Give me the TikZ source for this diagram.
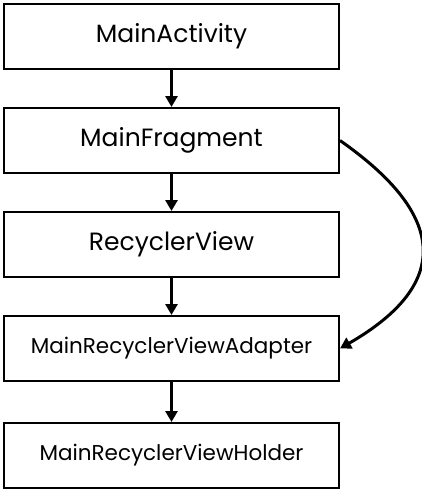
\documentclass[tikz,border=0pt]{standalone}
\usepackage{fontspec}
\setmainfont{Poppins}
\usetikzlibrary{positioning,arrows.meta}

\begin{document}
\begin{tikzpicture}[
    box/.style={draw, line width=2pt, minimum width=335pt, minimum height=65pt, inner sep=0pt},
    big/.style={font=\fontsize{25}{28}\selectfont},
    small/.style={font=\fontsize{21.5}{24}\selectfont},
    link/.style={-{Triangle[length=11pt,width=12pt]}, line width=3pt},
    node distance=37pt
  ]
    \useasboundingbox (0,0) rectangle (422pt,-490pt);
    \node [box, big, anchor=north west] (activity) at (3pt,-3pt) {MainActivity};
    \node [box, big, below=of activity] (fragment) {MainFragment};
    \node [box, big, below=of fragment] (recycler) {RecyclerView};
    \node [box, small, below=of recycler] (adapter) {MainRecyclerViewAdapter};
    \node [box, small, below=40pt of adapter] (holder) {MainRecyclerViewHolder};

    \draw [link] (activity) -- (fragment);
    \draw [link] (fragment) -- (recycler);
    \draw [link] (recycler) -- (adapter);
    \draw [link] (adapter) -- (holder);
    \draw [link] (fragment.east) to[out=-35, in=30, looseness=1.6] (adapter.east);
\end{tikzpicture}
\end{document}
